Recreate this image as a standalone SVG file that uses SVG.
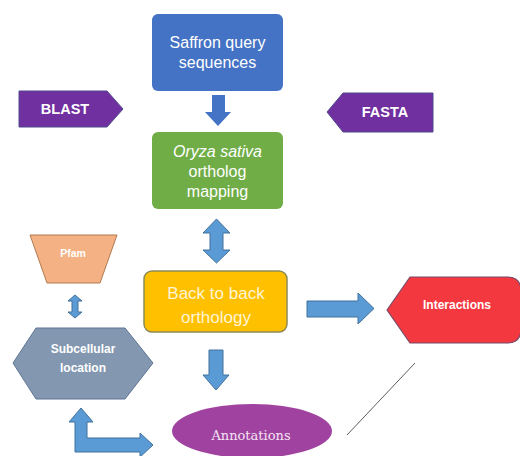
<svg xmlns="http://www.w3.org/2000/svg" width="520" height="456" viewBox="0 0 520 456">
<style>
.t{font-family:"Liberation Sans",Arial,sans-serif;text-anchor:middle}
.box{font-size:16px;fill:#ffffff}
.b{font-weight:bold;fill:#ffffff}
.arr{fill:#5B9BD5;stroke:#41719C;stroke-width:1}
</style>
<rect width="520" height="456" fill="#ffffff"/>
<g id="connectors">
<path d="M212,95 L225,95 L225,112 L231,112 L218,126 L205,112 L212,112 Z" fill="#4472C4"/>
<path class="arr" d="M216.5,219 L230,233 L223,233 L223,250 L230,250 L216.5,263 L203,250 L210,250 L210,233 L203,233 Z"/>
<path class="arr" d="M307,301 L358,301 L358,293 L374,308.5 L358,324 L358,317 L307,317 Z"/>
<path class="arr" d="M209,350 L223,350 L223,375 L229,375 L216,390 L203,375 L209,375 Z"/>
<path class="arr" d="M75,295 L82,301 L78,301 L78,312 L82,312 L75,318 L68,312 L72,312 L72,301 L68,301 Z"/>
<path class="arr" d="M81,408 L93,422 L87,422 L87,438 L140,438 L140,433 L153,445 L140,457 L140,452 L75,452 L75,422 L69,422 Z"/>
<line x1="415" y1="363" x2="347" y2="435" stroke="#333333" stroke-width="0.8"/>
</g>
<g id="saffron">
<rect x="152" y="14" width="131" height="77" rx="6" fill="#4472C4"/>
<text class="t box" x="217.5" y="48">Saffron query</text>
<text class="t box" x="217.5" y="68">sequences</text>
</g>
<g id="blast">
<polygon points="19,91 107,91 123,109 107,127 19,127" fill="#7030A0" stroke="#4E4A8E" stroke-width="1"/>
<text class="t b" x="65" y="114" font-size="14.5">BLAST</text>
</g>
<g id="fasta">
<polygon points="327,112 343,93 433,93 433,132 343,132" fill="#7030A0" stroke="#4E4A8E" stroke-width="1"/>
<text class="t b" x="385" y="117" font-size="14.5">FASTA</text>
</g>
<g id="oryza">
<rect x="152" y="132" width="131" height="77" rx="6" fill="#70AD47"/>
<text class="t box" x="217.5" y="157" font-style="italic">Oryza sativa</text>
<text class="t box" x="217.5" y="177">ortholog</text>
<text class="t box" x="217.5" y="197">mapping</text>
</g>
<g id="backtoback">
<rect x="144" y="271" width="143" height="61" rx="8" fill="#FFC000" stroke="#8C8A55" stroke-width="1.5"/>
<text class="t" x="216" y="299" font-size="17" fill="#FFF5D6">Back to back</text>
<text class="t" x="216" y="323" font-size="17" fill="#FFF5D6">orthology</text>
</g>
<g id="interactions">
<path d="M387,310 L410,277 L507,277 Q521,277 521,291 L521,329 Q521,343 507,343 L410,343 Z" fill="#F4383F" stroke="#7B4A6A" stroke-width="1.2"/>
<text class="t b" x="457" y="309" font-size="12">Interactions</text>
</g>
<g id="pfam">
<polygon points="30,235 117,235 100,283 47,283" fill="#F4B183" stroke="#B07A50" stroke-width="1"/>
<text class="t b" x="73" y="257" font-size="10.5">Pfam</text>
</g>
<g id="subcellular">
<polygon points="13,363 36,328 125,328 153,363 125,399 36,399" fill="#8497B0" stroke="#5F7595" stroke-width="1"/>
<text class="t b" x="83" y="353" font-size="12">Subcellular</text>
<text class="t b" x="83" y="372" font-size="12">location</text>
</g>
<g id="annotations">
<ellipse cx="252" cy="431" rx="80" ry="27" fill="#A043A0"/>
<text x="251" y="440" font-family="DejaVu Serif,Liberation Serif,serif" font-size="13" text-anchor="middle" fill="#F4E4F4">Annotations</text>
</g>
</svg>
